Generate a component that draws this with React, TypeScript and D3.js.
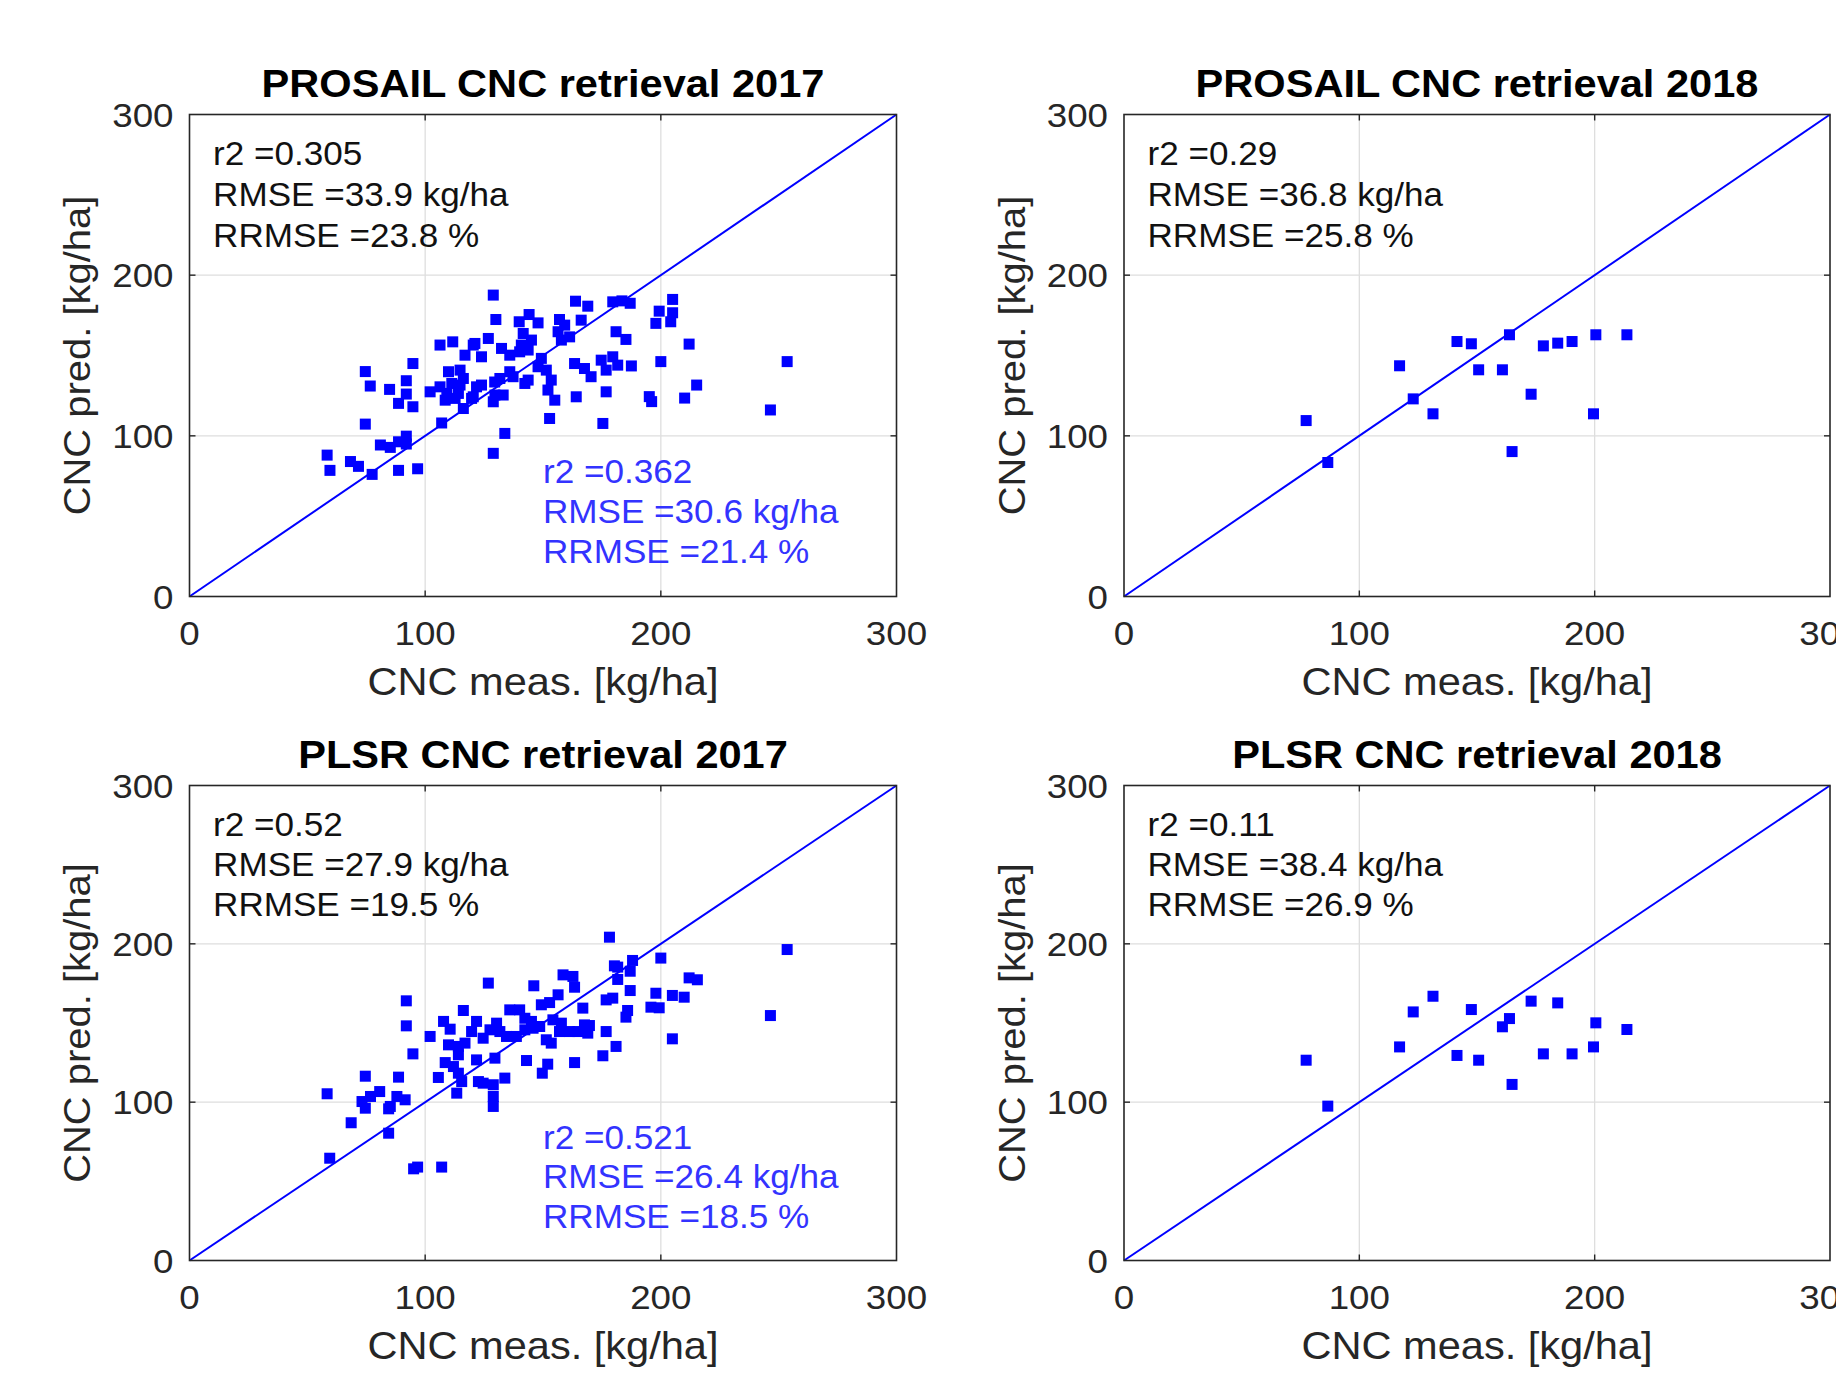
import * as d3 from "d3";

const prosail2017: [number, number][] = [
  [58.4, 88], [59.6, 78.5], [68.3, 84], [71.7, 81], [77.5, 76], [88.7, 78.5], [96.8, 79.5],
  [74.6, 107.3], [81, 94.3], [85.2, 92.8], [88.7, 96.3], [92, 99.8], [92, 94.9],
  [74.6, 140], [76.7, 131], [84.9, 128.9], [94.8, 145], [92, 134.3], [92, 126], [88.7, 120.2], [94.8, 118.1],
  [102.1, 127.4], [106.3, 156.5], [111.7, 158.5], [116.9, 150.2], [120.4, 156.5],
  [109.9, 139.9], [114.8, 140.9], [116.2, 135.7], [106.3, 130.5], [111.3, 132.6], [114.8, 131.6],
  [109.2, 126.4], [114.1, 126.4], [108.5, 122.2], [112.7, 123.3], [116.2, 117], [107, 108],
  [121.8, 130.5], [120.4, 124.3],
  [128.9, 187.6], [130, 172.4], [139.9, 171], [144.1, 175.5], [147.9, 170.3], [141.6, 163.7], [145.1, 159.6], [140.8, 156.5],
  [157, 172.4], [159.2, 168.9], [156.4, 164.8], [157.8, 159.6], [161.3, 161.6],
  [163.8, 183.8], [169, 180.7], [166.2, 172], [179.6, 183.4], [181, 164.8],
  [126.8, 160.6], [132.4, 154.4], [135.9, 150.2], [140.1, 152.3], [143.7, 153.4],
  [121.1, 157.5], [123.9, 149.2],
  [149.3, 148.2], [147.9, 143], [151.4, 140.9], [153.5, 134.7], [143.7, 134.7], [142.3, 132.6],
  [135.9, 139.9], [131.7, 135.7], [137.3, 136.8], [129.5, 133.5],
  [123.9, 131.6], [119.7, 123.3],
  [129.6, 125.4], [133.1, 125.4], [128.9, 121.2],
  [152.1, 128.5], [155, 122.2], [152.8, 110.8], [164.1, 124.3], [133.8, 101.5], [128.9, 89.1],
  [163.4, 145], [167.6, 141.9], [170.4, 136.8],
  [174.7, 147.1], [176.8, 140.9], [179.6, 149.2], [181.7, 144], [176.8, 127.4], [175.4, 107.7],
  [183.5, 184], [187, 182.5], [205, 184.9], [199.3, 177.6], [205, 176.6], [197.9, 170], [204.2, 171],
  [185.2, 160], [212, 157.1], [200, 146.2], [253.6, 146.2], [246.5, 116.1], [215.2, 131.6],
  [210.1, 123.5], [195.1, 124.4], [196.1, 121.3], [187.5, 143.5],
];

const plsr2017: [number, number][] = [
  [59.5, 64.6], [58.4, 105.3], [68.6, 87], [84.5, 80.4], [95.1, 57.9], [96.8, 59], [107, 59],
  [74.6, 116.4], [88.7, 115.8], [80.7, 106.7], [76.8, 103.6], [73.2, 100.4], [74.6, 96.2], [85.2, 97.3],
  [88, 103.6], [91.5, 101.5], [84.5, 95.8],
  [92, 164], [92, 148.2], [94.8, 130.5], [102.1, 141.5], [116.2, 157.9],
  [107.8, 151], [110.6, 146.1], [109.9, 136.2], [114.1, 135.2], [116.9, 137.3], [114.1, 129.9],
  [108.5, 125], [112, 122.5], [114.1, 118.3], [115.5, 113], [113.4, 105.7], [105.6, 115.6],
  [121.8, 151], [119.7, 144.6], [121.8, 126.7], [122.6, 113],
  [126.8, 175.2], [146.1, 173.5], [152.8, 162.9], [156.4, 167.8], [149.3, 161.5],
  [135.9, 158.3], [140.1, 158.3], [142.3, 153],
  [130.3, 149.9], [131.7, 144.6], [127.5, 145.7], [124.6, 140.4],
  [134.5, 141.5], [138.7, 141.5], [142.3, 145.7], [145.8, 146.7], [148.6, 147.8], [145.1, 151],
  [154.2, 152], [157.8, 149.9], [157, 144.6], [161.3, 144.6], [164.8, 144.6], [167.6, 148.8], [169, 143.6], [176.8, 144.6],
  [166.9, 159.4], [169.7, 148.4],
  [158.5, 180.4], [162.7, 179.4], [163.4, 172.6], [176.8, 164.6], [179.6, 165.7], [180.3, 186.1], [178.2, 204.2],
  [151.4, 139.4], [153.5, 137.3], [149.7, 118.3], [152, 124], [143, 126.3], [163.4, 125], [175.4, 129.3], [181, 135.2],
  [129.6, 127.8], [124.6, 112], [128.9, 111], [133.8, 115.2], [128.9, 103.6], [128.9, 97.3],
  [253.6, 196.4], [200, 191], [181.7, 185.3], [188, 189.5], [187, 182.7], [181.7, 177.5],
  [187, 170.5], [197.9, 168.8], [204.9, 167.4], [209.9, 166.3], [195.8, 160], [199.3, 159.6],
  [212, 178.5], [215.5, 177.3], [185.9, 157.9], [185.2, 153.7], [246.5, 154.7], [204.9, 140],
];

const meas2018 = [77.4, 86.6, 117.1, 122.9, 131.3, 141.5, 147.6, 150.7, 160.8, 163.8, 164.9, 173, 178.2, 184.3, 190.4, 200.5, 199.5, 213.7];
const prosailPred2018 = [109.5, 83.4, 143.6, 123, 113.7, 158.7, 157.3, 141.1, 141.1, 162.9, 90.2, 125.9, 156, 157.7, 158.7, 162.9, 113.7, 162.9];
const plsrPred2018 = [126.5, 97.5, 134.9, 157, 166.9, 129.5, 158.5, 126.5, 147.6, 152.8, 111.2, 163.8, 130.5, 162.7, 130.5, 150.1, 134.9, 145.9];

const ticks = [0, 100, 200, 300];

const stats2017Prosail = ["r2 =0.305", "RMSE =33.9 kg/ha", "RRMSE =23.8 %"];
const stats2017ProsailBlue = ["r2 =0.362", "RMSE =30.6 kg/ha", "RRMSE =21.4 %"];
const stats2018Prosail = ["r2 =0.29", "RMSE =36.8 kg/ha", "RRMSE =25.8 %"];
const stats2017Plsr = ["r2 =0.52", "RMSE =27.9 kg/ha", "RRMSE =19.5 %"];
const stats2017PlsrBlue = ["r2 =0.521", "RMSE =26.4 kg/ha", "RRMSE =18.5 %"];
const stats2018Plsr = ["r2 =0.11", "RMSE =38.4 kg/ha", "RRMSE =26.9 %"];

const FONT = "'Liberation Sans', Arial, Helvetica, sans-serif";
const SX = 1.08; // text in the figure is a bit wide
const BLUE = "#0000ff";

type Frame = { left: number; right: number; top: number; bottom: number };

const Txt = ({ x, y, size, anchor = "start", weight = "normal", fill = "#262626", rotate = 0, children }: any) => (
  <g transform={`translate(${x},${y})${rotate ? ` rotate(${rotate})` : ""} scale(${SX},1)`}>
    <text
      textAnchor={anchor}
      dominantBaseline="central"
      fontFamily={FONT}
      fontSize={size}
      fontWeight={weight}
      fill={fill}
    >
      {children}
    </text>
  </g>
);

const Panel = ({ frame, title, points, black, blue }: { frame: Frame; title: string; points: [number, number][]; black: string[]; blue?: string[] }) => {
  const x = d3.scaleLinear().domain([0, 300]).range([frame.left, frame.right]);
  const y = d3.scaleLinear().domain([0, 300]).range([frame.bottom, frame.top]);
  const line = d3.line<number>().x((d) => x(d)).y((d) => y(d));
  const s = 11;
  const tl = 6;
  const midX = (frame.left + frame.right) / 2;
  const midY = (frame.top + frame.bottom) / 2;

  return (
    <g>
      {[100, 200].map((t) => (
        <g key={t} stroke="#dedede" strokeWidth={1.3}>
          <line x1={x(t)} x2={x(t)} y1={frame.top} y2={frame.bottom} />
          <line x1={frame.left} x2={frame.right} y1={y(t)} y2={y(t)} />
        </g>
      ))}
      <path d={line([0, 300]) ?? ""} stroke={BLUE} strokeWidth={2} fill="none" />
      {points.map((d, i) => (
        <rect key={i} x={x(d[0]) - s / 2} y={y(d[1]) - s / 2} width={s} height={s} fill={BLUE} />
      ))}
      <rect
        x={frame.left}
        y={frame.top}
        width={frame.right - frame.left}
        height={frame.bottom - frame.top}
        fill="none"
        stroke="#262626"
        strokeWidth={1.6}
      />
      {ticks.slice(1, 3).map((t) => (
        <g key={t} stroke="#262626" strokeWidth={1.4}>
          <line x1={frame.left} x2={frame.left + tl} y1={y(t)} y2={y(t)} />
          <line x1={frame.right} x2={frame.right - tl} y1={y(t)} y2={y(t)} />
          <line x1={x(t)} x2={x(t)} y1={frame.bottom} y2={frame.bottom - tl} />
          <line x1={x(t)} x2={x(t)} y1={frame.top} y2={frame.top + tl} />
        </g>
      ))}
      {ticks.map((t) => (
        <Txt key={"y" + t} x={frame.left - 16} y={y(t)} size={34} anchor="end">{t}</Txt>
      ))}
      {ticks.map((t) => (
        <Txt key={"x" + t} x={x(t)} y={frame.bottom + 36} size={34} anchor="middle">{t}</Txt>
      ))}
      <Txt x={midX} y={frame.top - 31} size={38.5} anchor="middle" weight="bold" fill="#000">{title}</Txt>
      <Txt x={midX} y={frame.bottom + 85} size={38.5} anchor="middle">CNC meas. [kg/ha]</Txt>
      <Txt x={frame.left - 112} y={midY} size={37} anchor="middle" rotate={-90}>CNC pred. [kg/ha]</Txt>
      {black.map((t, i) => (
        <Txt key={"b" + i} x={x(10)} y={y([275.5, 250, 224.7][i])} size={32.5} fill="#111">{t}</Txt>
      ))}
      {blue?.map((t, i) => (
        <Txt key={"u" + i} x={x(150)} y={y([78, 53, 28][i])} size={32.5} fill="#3333ff">{t}</Txt>
      ))}
    </g>
  );
};

export default function App() {
  const pts2018a = meas2018.map((m, i) => [m, prosailPred2018[i]] as [number, number]);
  const pts2018b = meas2018.map((m, i) => [m, plsrPred2018[i]] as [number, number]);
  return (
    <svg
      width={1836}
      height={1374}
      style={{ position: "absolute", left: 0, top: 0, display: "block", background: "#fff" }}
    >
      <rect width={1836} height={1374} fill="#fff" />
      <Panel
        frame={{ left: 189.5, right: 896.5, top: 114.5, bottom: 596.5 }}
        title="PROSAIL CNC retrieval 2017"
        points={prosail2017}
        black={stats2017Prosail}
        blue={stats2017ProsailBlue}
      />
      <Panel
        frame={{ left: 1124, right: 1830, top: 114.5, bottom: 596.5 }}
        title="PROSAIL CNC retrieval 2018"
        points={pts2018a}
        black={stats2018Prosail}
      />
      <Panel
        frame={{ left: 189.5, right: 896.5, top: 785.5, bottom: 1260.5 }}
        title="PLSR CNC retrieval 2017"
        points={plsr2017}
        black={stats2017Plsr}
        blue={stats2017PlsrBlue}
      />
      <Panel
        frame={{ left: 1124, right: 1830, top: 785.5, bottom: 1260.5 }}
        title="PLSR CNC retrieval 2018"
        points={pts2018b}
        black={stats2018Plsr}
      />
    </svg>
  );
}
